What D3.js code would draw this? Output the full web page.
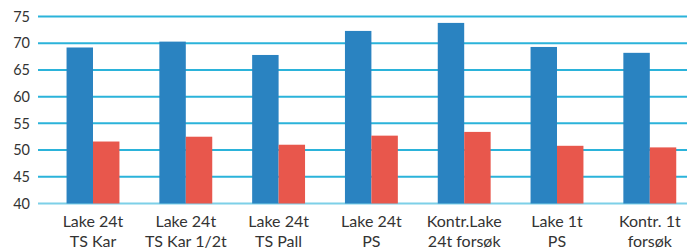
<!DOCTYPE html>
<html>
<head>
<meta charset="utf-8">
<script src="https://cdn.jsdelivr.net/npm/d3@7"></script>
<style>
  body { margin: 0; background: #fff; }
  svg { display: block; font-family: Lato, "Open Sans", sans-serif; }
</style>
</head>
<body>
<svg id="chart"></svg>
<script>
// categories (two-line labels)
const categories = [
    ["Lake 24t", "TS Kar"],
    ["Lake 24t", "TS Kar 1/2t"],
    ["Lake 24t", "TS Pall"],
    ["Lake 24t", "PS"],
    ["Kontr.Lake", "24t forsøk"],
    ["Lake 1t", "PS"],
    ["Kontr. 1t", "forsøk"]
];
const blueValues = [69.2, 70.3, 67.8, 72.3, 73.8, 69.3, 68.2];
const redValues = [51.6, 52.5, 51.0, 52.7, 53.4, 50.8, 50.5];
const yTicks = [40, 45, 50, 55, 60, 65, 70, 75];

const totalWidth = 687, totalHeight = 248;
//Margins chosen so the plot area fills the picture like the original
const margin = {left: 38, right: 0, top: 16, bottom: 44};
const width = totalWidth - margin.left - margin.right;
const height = totalHeight - margin.top - margin.bottom;

const svg = d3.select("#chart")
    .attr("width", totalWidth)
    .attr("height", totalHeight)
    .append("g")
    .attr("transform", "translate(" + margin.left + "," + margin.top + ")");

const keys = categories.map(d => d.join(" "));

//Band scale for the categories, group scale for the two bars inside each
const step = 92.8;
const xScale = d3.scaleBand()
    .domain(keys)
    .range([8.6, 8.6 + keys.length * step])
    .paddingInner(0.43)
    .paddingOuter(0.215);

const xSub = d3.scaleBand()
    .domain(["blue", "red"])
    .range([0, xScale.bandwidth()]);

const yScale = d3.scaleLinear()
    .domain([40, 75])
    .range([height - 0.5, 0.5]);

//Horizontal grid lines
svg.selectAll("line.grid")
    .data(yTicks)
    .join("line")
    .attr("class", "grid")
    .attr("x1", 0)
    .attr("x2", width)
    .attr("y1", d => yScale(d))
    .attr("y2", d => yScale(d))
    .attr("stroke", d => d == 40 ? "#7dd0e8" : "#2bb3da")
    .attr("stroke-width", 2);

//Y tick labels
svg.selectAll("text.ytick")
    .data(yTicks)
    .join("text")
    .attr("class", "ytick")
    .attr("x", -8)
    .attr("y", d => yScale(d))
    .attr("dy", "0.36em")
    .attr("text-anchor", "end")
    .attr("font-size", 14.5)
    .attr("fill", "#333")
    .text(d => d);

const groups = svg.selectAll("g.cat")
    .data(keys)
    .join("g")
    .attr("class", "cat")
    .attr("transform", d => "translate(" + xScale(d) + ",0)");

groups.append("rect")
    .attr("x", xSub("blue"))
    .attr("width", xSub.bandwidth())
    .attr("y", (d, i) => yScale(blueValues[i]))
    .attr("height", (d, i) => yScale(40) - yScale(blueValues[i]))
    .attr("fill", "#2a83c1");

groups.append("rect")
    .attr("x", xSub("red"))
    .attr("width", xSub.bandwidth())
    .attr("y", (d, i) => yScale(redValues[i]))
    .attr("height", (d, i) => yScale(40) - yScale(redValues[i]))
    .attr("fill", "#e8574c");

//Category labels on two lines
const labels = svg.selectAll("text.xlabel")
    .data(categories)
    .join("text")
    .attr("class", "xlabel")
    .attr("text-anchor", "middle")
    .attr("font-size", 16)
    .attr("fill", "#333")
    .attr("transform", (d, i) => "translate(" + (xScale(keys[i]) + xScale.bandwidth() / 2) + "," + (height + 23) + ")");

labels.selectAll("tspan")
    .data(d => d)
    .join("tspan")
    .attr("x", 0)
    .attr("dy", (d, i) => i == 0 ? 0 : 19.5)
    .text(d => d);
</script>
</body>
</html>
